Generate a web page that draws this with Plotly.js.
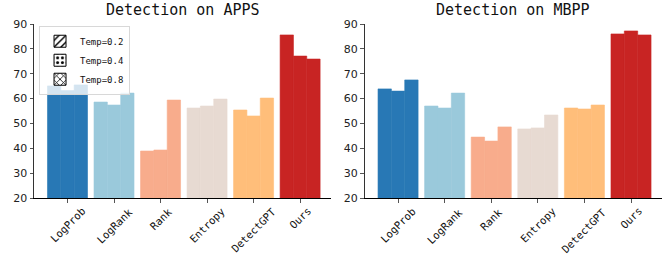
<!DOCTYPE html>
<html><head><meta charset="utf-8">
<script src="https://cdn.plot.ly/plotly-3.0.1.min.js"></script>
<style>body{margin:0;padding:0;background:#fff}#chart{width:662px;height:255px}</style>
</head><body><div id="chart"></div>
<script>
const categories = ['LogProb','LogRank','Rank','Entropy','DetectGPT','Ours'];
const colors = ['#2878B5','#9AC9DB','#F8AC8C','#E7DAD2','#FFBE7A','#C82423'];
const temps = ['Temp=0.2','Temp=0.4','Temp=0.8'];
const patterns = ['/','.','x'];
// APPS
const apps_t02 = [65.1, 58.6, 38.9, 56.2, 55.4, 85.6];
const apps_t04 = [63.2, 57.4, 39.3, 57.0, 53.0, 77.1];
const apps_t08 = [65.5, 62.2, 59.4, 59.8, 60.2, 75.9];
// MBPP
const mbpp_t02 = [63.9, 57.0, 44.5, 47.8, 56.2, 86.0];
const mbpp_t04 = [63.0, 56.2, 42.9, 48.2, 55.8, 87.2];
const mbpp_t08 = [67.5, 62.2, 48.6, 53.4, 57.4, 85.6];
const titles = ['Detection on APPS','Detection on MBPP'];

const traces = [];
const panels = [[apps_t02, apps_t04, apps_t08], [mbpp_t02, mbpp_t04, mbpp_t08]];
panels.forEach((series, p) => {
  series.forEach((vals, i) => {
    traces.push({
      type: 'bar', x: categories, y: vals,
      xaxis: p === 0 ? 'x' : 'x2', yaxis: p === 0 ? 'y' : 'y2',
      marker: {color: colors, line: {width: 0.6, color: colors}},
      showlegend: false, hoverinfo: 'skip'
    });
  });
});
temps.forEach((t, i) => {
  traces.push({
    type: 'bar', x: [null], y: [null], name: t,
    xaxis: 'x3', yaxis: 'y3',
    marker: {color: '#fff', line: {color: '#000', width: 1},
      pattern: {shape: patterns[i], fgcolor: '#000', bgcolor: '#fff', size: 6, solidity: 0.3}},
    showlegend: true
  });
});

const xcommon = {
  type: 'category', range: [-0.72, 5.665], showgrid: false, zeroline: false,
  showline: true, linecolor: '#000', linewidth: 1,
  ticks: 'outside', ticklen: 3.5, tickcolor: '#555', tickwidth: 1,
  showticklabels: false
};
const ycommon = {
  range: [20, 90], tickvals: [20,30,40,50,60,70,80,90], showgrid: false, zeroline: false,
  showline: true, linecolor: '#333', linewidth: 1,
  ticks: 'outside', ticklen: 3.5, tickcolor: '#555', tickwidth: 1,
  tickfont: {family: 'DejaVu Sans', size: 11, color: '#222'}
};
const annotations = titles.map((t, p) => ({
  text: t, showarrow: false, xref: 'paper', yref: 'paper',
  x: p === 0 ? 0.2365 : 0.763, y: 1, xanchor: 'center', yanchor: 'bottom', yshift: 3,
  font: {family: 'DejaVu Sans Mono', size: 15, color: '#111'}
}));
['x', 'x2'].forEach(ax => {
  categories.forEach(c => {
    annotations.push({
      text: c, showarrow: false, xref: ax, yref: 'paper', x: c, y: 0,
      xanchor: 'center', yanchor: 'top', yshift: -6, textangle: -45, borderpad: 0,
      font: {family: 'DejaVu Sans Mono', size: 10.5, color: '#111'}
    });
  });
});
const layout = {
  width: 662, height: 255,
  margin: {l: 34, r: 0, t: 24, b: 57},
  paper_bgcolor: '#fff', plot_bgcolor: '#fff',
  barmode: 'group', bargap: 0.14, bargroupgap: 0,
  xaxis: Object.assign({}, xcommon, {domain: [0, 0.473], anchor: 'y'}),
  yaxis: Object.assign({}, ycommon, {domain: [0, 1], anchor: 'x'}),
  xaxis2: Object.assign({}, xcommon, {domain: [0.5263, 1], anchor: 'y2'}),
  yaxis2: Object.assign({}, ycommon, {domain: [0, 1], anchor: 'x2'}),
  xaxis3: {visible: false, overlaying: 'x', anchor: 'y3'},
  yaxis3: {visible: false, overlaying: 'y', anchor: 'x3'},
  showlegend: true,
  legend: {x: 0.008, y: 0.99, xanchor: 'left', yanchor: 'top', itemwidth: 30,
    bgcolor: 'rgba(255,255,255,0.8)', bordercolor: '#d8d8d8', borderwidth: 1,
    font: {family: 'DejaVu Sans Mono', size: 9, color: '#111'}},
  annotations: annotations
};
Plotly.newPlot('chart', traces, layout, {displayModeBar: false, staticPlot: true});
</script>
</body></html>
